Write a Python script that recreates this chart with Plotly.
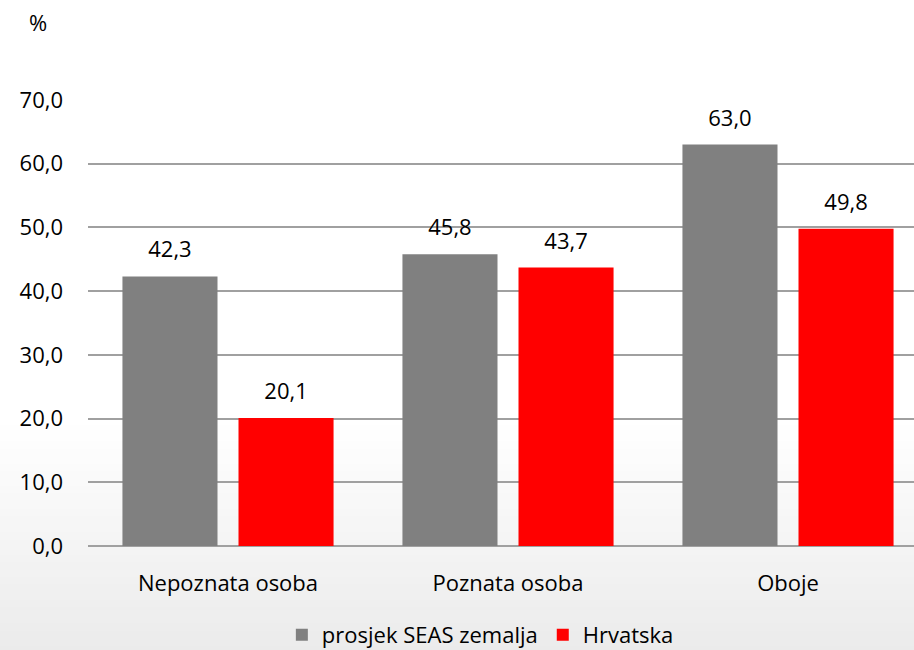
import plotly.graph_objects as go

categories = ["Nepoznata osoba", "Poznata osoba", "Oboje"]
seas_avg = [42.3, 45.8, 63.0]
croatia = [20.1, 43.7, 49.8]
y_ticks = [0, 10, 20, 30, 40, 50, 60, 70]

FONT = "Open Sans"
FS = 22

fig = go.Figure()
series = [("prosjek SEAS zemalja", seas_avg, "#808080"), ("Hrvatska", croatia, "#ff0000")]
for name, vals, color in series:
    fig.add_trace(go.Bar(x=categories, y=vals, name=name, offsetgroup=name,
                         marker=dict(color=color, line=dict(width=0))))
# value labels, aligned to the bars via grouped scatter
for name, vals, color in series:
    fig.add_trace(go.Scatter(x=categories, y=vals, offsetgroup=name, mode="markers+text",
                             marker=dict(size=20, opacity=0), showlegend=False,
                             texttemplate="%{y:.1f}", textposition="top center",
                             textfont=dict(size=FS, color="#000000"), cliponaxis=False,
                             hoverinfo="skip"))

# soft grey gradient towards the bottom of the chart
n = 30
y_top, y_bot = 0.27, -0.24
for i in range(n):
    t = (i + 1) / n
    g = round(255 - 20 * t)
    y0 = y_top - (y_top - y_bot) * i / n
    y1 = y_top - (y_top - y_bot) * (i + 1) / n
    fig.add_shape(type="rect", xref="paper", yref="paper", x0=-0.2, x1=1.2,
                  y0=y1 - 0.002 if i < n - 1 else y_bot - 0.05, y1=y0,
                  fillcolor=f"rgb({g},{g},{g})", line=dict(width=0), layer="below")

fig.add_annotation(text="%", xref="paper", yref="paper", x=-0.0605, y=1.175,
                   xanchor="center", yanchor="middle",
                   showarrow=False, font=dict(size=FS, color="#000000"))

fig.update_layout(
    width=914, height=650,
    barmode="group", bargap=0.171, bargroupgap=0.181,
    scattermode="group", scattergap=0.171,
    separators=",.",
    paper_bgcolor="#ffffff", plot_bgcolor="rgba(0,0,0,0)",
    font=dict(family=FONT, size=FS, color="#000000"),
    margin=dict(l=88, r=0, t=100, b=104, autoexpand=False),
    showlegend=True,
    legend=dict(orientation="h", x=0.475, xanchor="center", yref="container",
                y=0.023, yanchor="middle",
                font=dict(size=FS), itemwidth=30, traceorder="normal",
                bgcolor="rgba(0,0,0,0)"),
    xaxis=dict(range=[-0.5, 2.45], showgrid=False, showline=False, ticks="",
               automargin=False, ticklabelstandoff=22, tickfont=dict(size=FS)),
    yaxis=dict(range=[0, 70], tickvals=y_ticks, tickformat=".1f",
               showgrid=True, gridcolor="#a0a0a0", gridwidth=1.5,
               zeroline=True, zerolinecolor="#a0a0a0", zerolinewidth=1.5,
               automargin=False, showline=False, ticklabelstandoff=24,
               tickfont=dict(size=FS)),
)

fig.write_html("out.html", config={"displayModeBar": False},
               post_script="document.body.style.margin='0';")
